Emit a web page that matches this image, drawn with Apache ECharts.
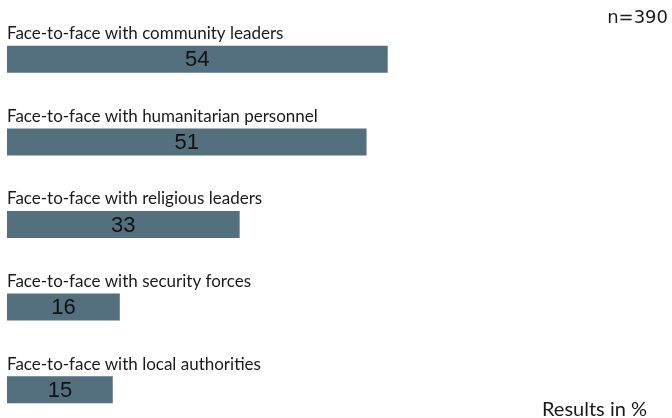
<!DOCTYPE html>
<html>
<head>
<meta charset="utf-8">
<script src="https://cdn.jsdelivr.net/npm/echarts@6/dist/echarts.min.js"></script>
<style>
  html, body { margin: 0; padding: 0; background: #ffffff; }
  #chart { width: 672px; height: 418px; }
</style>
</head>
<body>
<div id="chart"></div>
<script>
// Channels of face-to-face communication, share of respondents (%)
const categories = [
  'Face-to-face with community leaders',
  'Face-to-face with humanitarian personnel',
  'Face-to-face with religious leaders',
  'Face-to-face with security forces',
  'Face-to-face with local authorities'
];
const values = [54, 51, 33, 16, 15];
const sampleNote = 'n=390';
const unitNote = 'Results in %';

const chart = echarts.init(document.getElementById('chart'));
const labelFont = 'Lato, "Noto Sans", sans-serif';

chart.setOption({
  animation: false,
  backgroundColor: '#ffffff',
  grid: {
    left: 7, top: 18, bottom: -13, width: 634.5,
    containLabel: false,
    outerBoundsMode: 'none'
  },
  graphic: [
    { type: 'text', right: 4, top: 9, style: { text: sampleNote, font: '18px "DejaVu Sans", sans-serif', fill: '#1a1a1a' } },
    { type: 'text', right: 25, top: 400, style: { text: unitNote, font: '20px ' + labelFont, fill: '#1a1a1a' } }
  ],
  xAxis: { type: 'value', min: 0, max: 90, show: false },
  yAxis: {
    type: 'category',
    data: categories,
    inverse: true,
    axisLine: { show: false },
    axisTick: { show: false },
    splitLine: { show: false },
    axisLabel: {
      inside: true,
      align: 'left',
      verticalAlign: 'bottom',
      margin: 0,
      padding: [0, 0, 17, 0],
      fontFamily: labelFont,
      fontSize: 17,
      color: '#1a1a1a'
    }
  },
  series: [{
    type: 'bar',
    data: values,
    barWidth: 27,
    itemStyle: { color: '#546f7e' },
    label: {
      show: true,
      position: 'inside',
      offset: [0, 1],
      fontFamily: '"Liberation Sans", Arial, sans-serif',
      fontSize: 22,
      color: '#111111'
    }
  }]
});
</script>
</body>
</html>
